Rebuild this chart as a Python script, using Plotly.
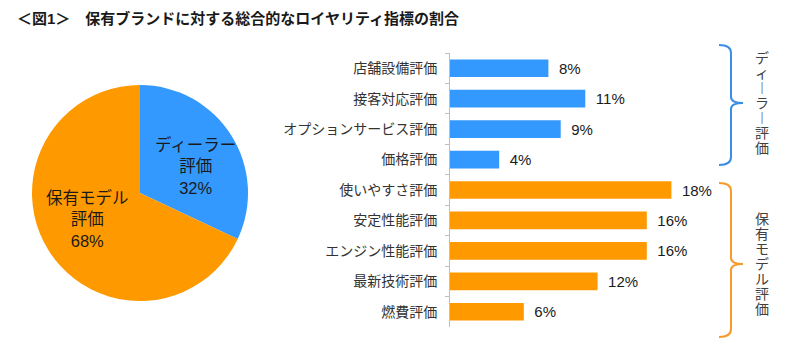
import plotly.graph_objects as go

W, H = 805, 351

# ---- data ----
pie_labels = ["ディーラー評価", "保有モデル評価"]
pie_text_lines = [["ディーラー", "評価"], ["保有モデル", "評価"]]
pie_values = [32, 68]
pie_colors = ["#3399FF", "#FF9900"]

bar_categories = ["店舗設備評価", "接客対応評価", "オプションサービス評価", "価格評価",
                  "使いやすさ評価", "安定性能評価", "エンジン性能評価", "最新技術評価", "燃費評価"]
bar_values = [8, 11, 9, 4, 18, 16, 16, 12, 6]
bar_groups = ["dealer"] * 4 + ["model"] * 5
group_colors = {"dealer": "#3399FF", "model": "#FF9900"}

title_text = "＜図1＞　保有ブランドに対する総合的なロイヤリティ指標の割合"
brace_labels = ["ディーラー評価", "保有モデル評価"]

FONT = "Liberation Sans, Noto Sans CJK JP, sans-serif"


def px(x):
    return x / W


def py(y):
    return 1 - y / H


fig = go.Figure()

fig.add_trace(go.Pie(
    labels=pie_labels, values=pie_values, sort=False, direction="clockwise",
    rotation=0, marker=dict(colors=pie_colors, line=dict(width=0)),
    textinfo="none", hoverinfo="label+percent", showlegend=False,
    domain=dict(x=[px(32), px(248)], y=[py(301), py(85)]),
))

fig.add_trace(go.Bar(
    y=bar_categories, x=bar_values, orientation="h",
    marker=dict(color=[group_colors[g] for g in bar_groups], line=dict(width=0)),
    text=["\u2002" + f"{v}%" for v in bar_values], textposition="outside",
    textfont=dict(size=15, color="#1a1a1a", family=FONT),
    cliponaxis=False, showlegend=False, xaxis="x", yaxis="y",
))

x0, x1 = 450, 700
fig.update_layout(
    width=W, height=H, margin=dict(l=0, r=0, t=0, b=0),
    paper_bgcolor="white", plot_bgcolor="white",
    font=dict(family=FONT),
    bargap=0.42,
    xaxis=dict(domain=[px(x0), px(x1)], range=[0, (x1 - x0) / 12.3],
               visible=False, fixedrange=True),
    yaxis=dict(domain=[py(327), py(53)], autorange="reversed", type="category",
               showline=True, linecolor="#bfbfbf", linewidth=1,
               ticks="outside", tickson="boundaries", ticklen=4, tickcolor="#bfbfbf",
               ticklabelstandoff=9,
               tickfont=dict(size=14, color="#333333", family=FONT),
               showgrid=False, zeroline=False, fixedrange=True),
)

annotations = []
# title
annotations.append(dict(x=px(15), y=py(18), xref="paper", yref="paper",
                        xanchor="left", yanchor="middle", showarrow=False,
                        text="<b>" + title_text + "</b>",
                        font=dict(size=15, color="#1a1a1a", family=FONT)))
# pie labels
pie_pos = [(195, 166), (87, 219)]
for lines, v, (ax, ay) in zip(pie_text_lines, pie_values, pie_pos):
    annotations.append(dict(x=px(ax), y=py(ay), xref="paper", yref="paper",
                            xanchor="center", yanchor="middle", showarrow=False,
                            text="<br>".join(lines + [f"{v}%"]),
                            font=dict(size=16.5, color="#1a1a1a", family=FONT)))


def vertical(s):
    out = []
    for ch in s:
        if ch == "ー":
            ch = "︱"
        out.append(f'<span style="font-size:14px">{ch}</span>')
    return "<br>".join(out)


brace_specs = [
    (brace_labels[0], "#3A8EE6", 45, 165, 103),
    (brace_labels[1], "#F59A2B", 183, 337, 264),
]
shapes = []
for label, col, top, bot, mid in brace_specs:
    xa, xb, xc = 719, 731, 743
    path = (f"M {px(xa)},{py(top)} Q {px(xb)},{py(top)} {px(xb)},{py(top + 8)} "
            f"L {px(xb)},{py(mid - 6)} Q {px(xb)},{py(mid)} {px(xc)},{py(mid)} "
            f"Q {px(xb)},{py(mid)} {px(xb)},{py(mid + 6)} "
            f"L {px(xb)},{py(bot - 8)} Q {px(xb)},{py(bot)} {px(xa)},{py(bot)}")
    shapes.append(dict(type="path", path=path, xref="paper", yref="paper",
                       line=dict(color=col, width=2)))
    annotations.append(dict(x=px(762), y=py(mid), xref="paper", yref="paper",
                            xanchor="center", yanchor="middle", showarrow=False,
                            text=vertical(label),
                            font=dict(size=11.5, color="#404040", family=FONT)))

fig.update_layout(annotations=annotations, shapes=shapes)
fig.write_html("out.html")
